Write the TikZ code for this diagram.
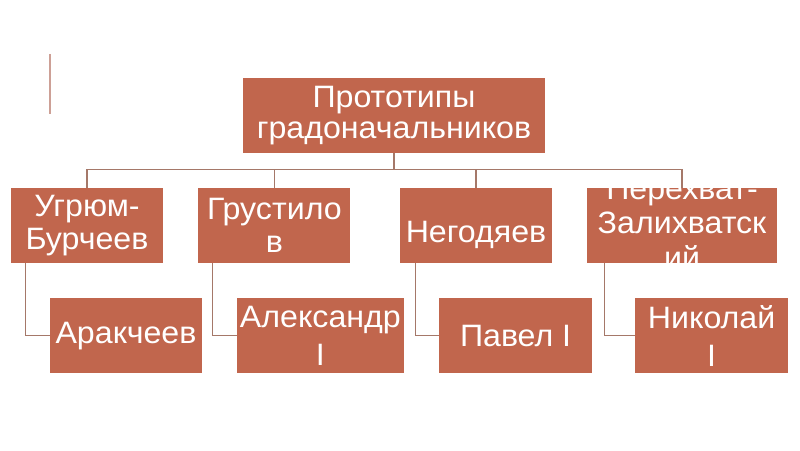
\documentclass[tikz,border=0pt]{standalone}
\usepackage{fontspec}
\setmainfont{Liberation Sans}[FakeStretch=1.04]
\usepackage{xcolor}
\definecolor{boxfill}{RGB}{193,102,77}
\definecolor{wire}{RGB}{165,120,105}
\definecolor{accent}{RGB}{205,160,150}

\begin{document}
\begin{tikzpicture}
\tikzset{
	box/.style={draw=none, fill=boxfill, text=white, align=center, inner sep=0pt,
		minimum width=3.8cm, minimum height=1.875cm, font=\fontsize{22}{23.5}\selectfont},
	subbox/.style={box, minimum width=3.83cm, font=\fontsize{22}{27}\selectfont},
	lowtext/.style={execute at begin node={\rule{0pt}{28pt}}},
	link/.style={draw=wire, line width=0.75pt},
}
	\useasboundingbox (0,0) rectangle (20,11.25);
	\draw[draw=accent, line width=1.5pt] (1.24,9.9) -- (1.24,8.4);
	% root
	\node[box, minimum width=7.55cm, font=\fontsize{22}{21.5}\selectfont] (proto) at (9.85,8.36) {Прототипы\\градоначальников};
	% first row
	\node[box, lowtext] (ugrum) at (2.175,5.61) {Угрюм-\\Бурчеев};
	\node[box, lowtext] (grust) at (6.86,5.61) {Грустило\\в};
	\node[box, lowtext] (negod) at (11.9,5.61) {Негодяев};
	\node[box, minimum width=4.75cm] (perekh) at (17.05,5.61) {\smash{\raisebox{-0.22cm}{\fontsize{22}{24.5}\selectfont\begin{tabular}{@{}c@{}}Перехват-\\Залихватск\\ий\end{tabular}}}};
	% second row
	\node[subbox, minimum width=3.8cm] (arakch) at (3.15,2.86) {Аракчеев};
	\node[subbox, minimum width=4.18cm] (alex) at (8.01,2.86) {Александр\\I};
	\node[subbox] (pavel) at (12.89,2.86) {Павел I};
	\node[subbox] (nikol) at (17.79,2.86) {Николай\\I};
	% connectors
	\coordinate (bus) at ([yshift=-0.4cm]proto.south);
	\draw[link] (proto.south) -- (bus);
	\draw[link] (bus) -| (ugrum.north);
	\draw[link] (bus) -| (grust.north);
	\draw[link] (bus) -| (negod.north);
	\draw[link] (bus) -| (perekh.north);
	\draw[link] ([xshift=0.38cm]ugrum.south west) |- (arakch.west);
	\draw[link] ([xshift=0.36cm]grust.south west) |- (alex.west);
	\draw[link] ([xshift=0.4cm]negod.south west) |- (pavel.west);
	\draw[link] ([xshift=0.45cm]perekh.south west) |- (nikol.west);
\end{tikzpicture}
\end{document}
